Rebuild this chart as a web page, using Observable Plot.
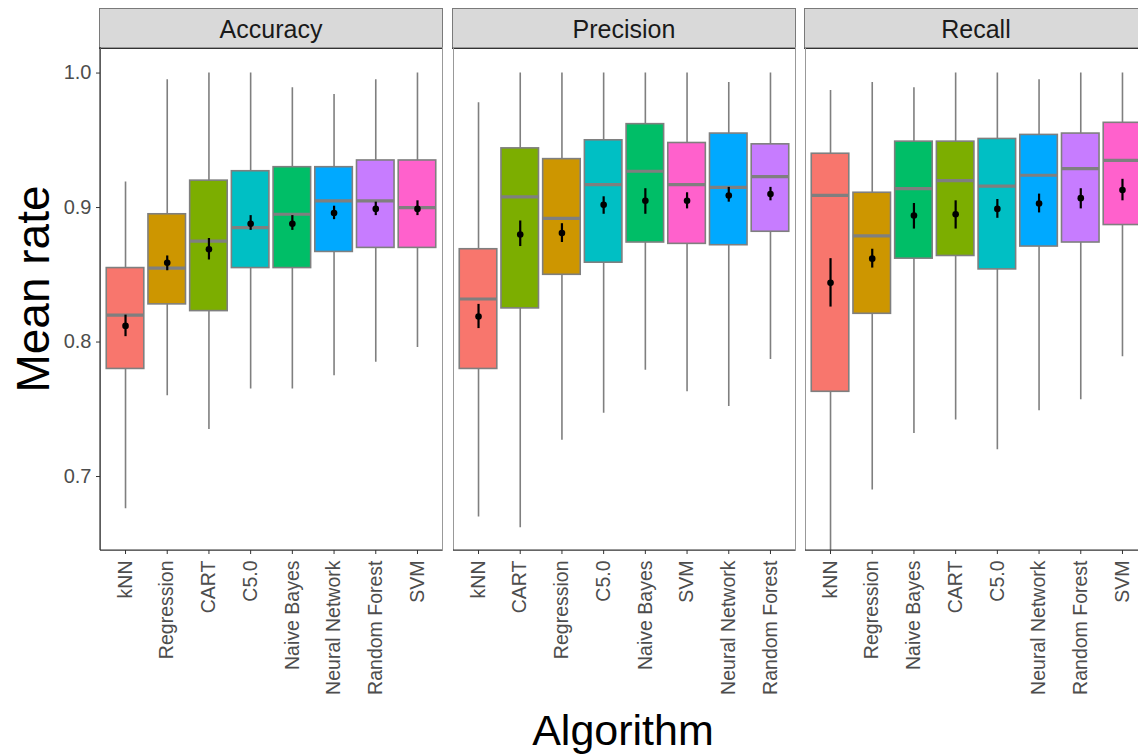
<!DOCTYPE html>
<html>
<head>
<meta charset="utf-8">
<script src="https://cdn.jsdelivr.net/npm/d3@7"></script>
<script src="https://cdn.jsdelivr.net/npm/@observablehq/plot@0.6"></script>
<style>
  html, body { margin: 0; padding: 0; background: #fff; }
  #chart { position: relative; width: 1138px; height: 754px; overflow: hidden; font-family: "Liberation Sans", Arial, sans-serif; }
  .strip { position: absolute; top: 8px; height: 38px; background: #d9d9d9; border: 1px solid #7a7a7a; border-bottom: 2px solid #333;
           font-size: 25px; color: #1a1a1a; text-align: center; line-height: 40px; box-sizing: content-box; }
  .ytitle { position: absolute; left: 33px; top: 289px; transform: translate(-50%, -50%) rotate(-90deg); font-size: 46px; color: #000; white-space: nowrap; }
  .xtitle { position: absolute; left: 623px; top: 730px; transform: translate(-50%, -50%); font-size: 43px; color: #000; white-space: nowrap; }
</style>
</head>
<body>
<div id="chart"></div>
<script>
// ---- Data ----
const metrics = ["Accuracy", "Precision", "Recall"];
const algorithms = ["kNN", "Regression", "CART", "Naive Bayes", "C5.0", "Neural Network", "Random Forest", "SVM"];
const algorithmColors = ["#F8766D", "#CD9600", "#7CAE00", "#00BE67", "#00BFC4", "#00A9FF", "#C77CFF", "#FF61CC"];
const yTicks = [0.7, 0.8, 0.9, 1.0];

// Accuracy
const accuracyOrder    = ["kNN", "Regression", "CART", "C5.0", "Naive Bayes", "Neural Network", "Random Forest", "SVM"];
const accuracyLow      = [0.676, 0.760, 0.735, 0.765, 0.765, 0.775, 0.785, 0.796];
const accuracyQ1       = [0.780, 0.828, 0.823, 0.855, 0.855, 0.867, 0.870, 0.870];
const accuracyMedian   = [0.820, 0.855, 0.875, 0.885, 0.895, 0.905, 0.905, 0.900];
const accuracyQ3       = [0.855, 0.895, 0.920, 0.927, 0.930, 0.930, 0.935, 0.935];
const accuracyHigh     = [0.919, 0.995, 1.000, 1.000, 0.989, 0.984, 0.995, 1.000];
const accuracyMean     = [0.812, 0.859, 0.869, 0.888, 0.888, 0.896, 0.899, 0.899];
const accuracyMeanLow  = [0.804, 0.853, 0.861, 0.883, 0.883, 0.891, 0.894, 0.894];
const accuracyMeanHigh = [0.820, 0.864, 0.877, 0.894, 0.894, 0.901, 0.904, 0.905];

// Precision
const precisionOrder    = ["kNN", "CART", "Regression", "C5.0", "Naive Bayes", "SVM", "Neural Network", "Random Forest"];
const precisionLow      = [0.670, 0.662, 0.727, 0.747, 0.779, 0.763, 0.752, 0.787];
const precisionQ1       = [0.780, 0.825, 0.850, 0.859, 0.874, 0.873, 0.872, 0.882];
const precisionMedian   = [0.832, 0.908, 0.892, 0.917, 0.927, 0.917, 0.915, 0.923];
const precisionQ3       = [0.869, 0.944, 0.936, 0.950, 0.962, 0.948, 0.955, 0.947];
const precisionHigh     = [0.978, 1.000, 1.000, 1.000, 1.000, 1.000, 0.993, 1.000];
const precisionMean     = [0.819, 0.880, 0.881, 0.902, 0.905, 0.905, 0.909, 0.910];
const precisionMeanLow  = [0.810, 0.871, 0.874, 0.895, 0.895, 0.899, 0.904, 0.905];
const precisionMeanHigh = [0.828, 0.890, 0.888, 0.908, 0.914, 0.911, 0.915, 0.915];

// Recall
const recallOrder    = ["kNN", "Regression", "Naive Bayes", "CART", "C5.0", "Neural Network", "Random Forest", "SVM"];
const recallLow      = [0.620, 0.690, 0.732, 0.742, 0.720, 0.749, 0.757, 0.789];
const recallQ1       = [0.763, 0.821, 0.862, 0.864, 0.854, 0.871, 0.874, 0.887];
const recallMedian   = [0.909, 0.879, 0.914, 0.920, 0.916, 0.924, 0.929, 0.935];
const recallQ3       = [0.940, 0.911, 0.949, 0.949, 0.951, 0.954, 0.955, 0.963];
const recallHigh     = [0.987, 0.993, 0.989, 1.000, 1.000, 0.995, 1.000, 1.000];
const recallMean     = [0.844, 0.862, 0.894, 0.895, 0.899, 0.903, 0.907, 0.913];
const recallMeanLow  = [0.826, 0.855, 0.884, 0.884, 0.892, 0.896, 0.899, 0.905];
const recallMeanHigh = [0.862, 0.869, 0.903, 0.905, 0.906, 0.910, 0.914, 0.921];

// ---- Build tables ----
function table(order, low, q1, med, q3, high, mean, mlo, mhi) {
  return order.map((alg, i) => ({alg, low: low[i], q1: q1[i], med: med[i], q3: q3[i], high: high[i], mean: mean[i], mlo: mlo[i], mhi: mhi[i]}));
}
const panels = [
  {name: metrics[0], order: accuracyOrder, data: table(accuracyOrder, accuracyLow, accuracyQ1, accuracyMedian, accuracyQ3, accuracyHigh, accuracyMean, accuracyMeanLow, accuracyMeanHigh)},
  {name: metrics[1], order: precisionOrder, data: table(precisionOrder, precisionLow, precisionQ1, precisionMedian, precisionQ3, precisionHigh, precisionMean, precisionMeanLow, precisionMeanHigh)},
  {name: metrics[2], order: recallOrder, data: table(recallOrder, recallLow, recallQ1, recallMedian, recallQ3, recallHigh, recallMean, recallMeanLow, recallMeanHigh)}
];

const chart = document.getElementById("chart");
const panelLefts = [100, 453, 805];
const panelW = 342;
const panelH = 503;
const panelTop = 47;
const bottomSpace = 754 - panelTop - panelH;
const gray = "#7f7f7f";

panels.forEach((p, k) => {
  const first = k === 0;
  const mL = first ? 100 : 0;
  const strip = document.createElement("div");
  strip.className = "strip";
  strip.style.left = (panelLefts[k] - 1) + "px";
  strip.style.width = panelW + "px";
  strip.textContent = p.name;
  chart.appendChild(strip);

  const marks = [
    Plot.ruleX(p.data, {x: "alg", y1: "low", y2: "high", stroke: gray, strokeWidth: 1.6}),
    Plot.barY(p.data, {x: "alg", y1: "q1", y2: "q3", fill: "alg", stroke: gray, strokeWidth: 1.6}),
    Plot.tickY(p.data, {x: "alg", y: "med", stroke: gray, strokeWidth: 3.2}),
    Plot.ruleX(p.data, {x: "alg", y1: "mlo", y2: "mhi", stroke: "#000", strokeWidth: 2.2}),
    Plot.dot(p.data, {x: "alg", y: "mean", r: 3.3, fill: "#000", stroke: "none"}),
    Plot.frame({stroke: "#999", strokeWidth: 1}),
    Plot.axisX({tickRotate: -90, tickSize: 4, tickPadding: 6, fontSize: 19.5, fill: "#4d4d4d", stroke: "#333", label: null})
  ];
  if (first) {
    marks.push(Plot.axisY({ticks: yTicks, tickFormat: d3.format(".1f"), tickSize: 4, tickPadding: 5, fontSize: 20, fill: "#4d4d4d", stroke: "#333", label: null}));
  }
  const svg = Plot.plot({
    width: mL + panelW,
    height: panelH + bottomSpace,
    marginLeft: mL,
    marginRight: 0,
    marginTop: 0,
    marginBottom: bottomSpace,
    style: {fontFamily: "'Liberation Sans', Arial, sans-serif", background: "transparent", overflow: "visible"},
    clip: true,
    x: {domain: p.order, paddingInner: 0.1, paddingOuter: 0.15, round: false, label: null},
    y: {domain: [0.645, 1.019], label: null, axis: first ? undefined : null},
    color: {domain: algorithms, range: algorithmColors},
    marks
  });
  svg.style.position = "absolute";
  svg.style.left = (panelLefts[k] - mL) + "px";
  svg.style.top = panelTop + "px";
  chart.appendChild(svg);
  const s = d3.select(svg);
  // dark bottom axis line
  s.append("line").attr("x1", mL).attr("x2", mL + panelW).attr("y1", panelH).attr("y2", panelH).attr("stroke", "#333").attr("stroke-width", 1.2);
  if (first) {
    s.append("line").attr("x1", mL).attr("x2", mL).attr("y1", 0).attr("y2", panelH).attr("stroke", "#333").attr("stroke-width", 1.2);
  }
});

const yt = document.createElement("div");
yt.className = "ytitle"; yt.textContent = "Mean rate";
chart.appendChild(yt);
const xt = document.createElement("div");
xt.className = "xtitle"; xt.textContent = "Algorithm";
chart.appendChild(xt);
</script>
</body>
</html>
